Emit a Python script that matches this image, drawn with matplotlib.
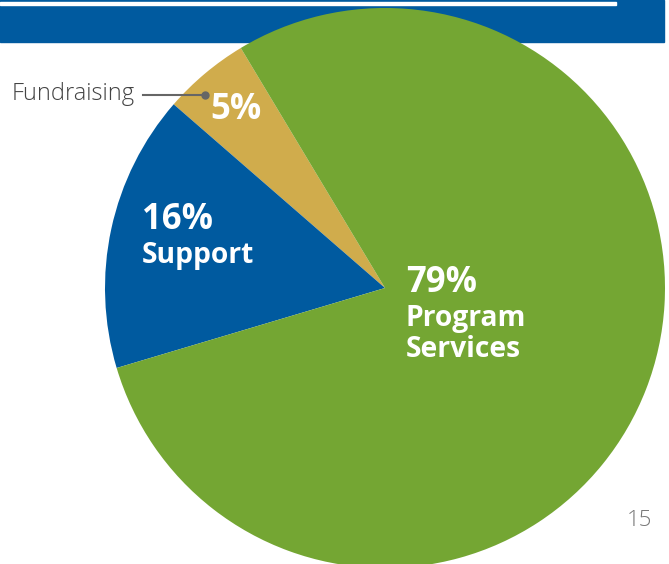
import matplotlib.pyplot as plt
from matplotlib.patches import Rectangle

labels = ["Fundraising", "Support", "Program\nServices"]
values = [5, 16, 79]
colors = ["#D0AC4C", "#005A9F", "#74A633"]

W, H = 669, 564
fig = plt.figure(figsize=(W / 100, H / 100), dpi=100)
ax = fig.add_axes([0, 0, 1, 1])

font = ["Open Sans", "DejaVu Sans"]

# header banner
ax.add_patch(Rectangle((0, H - 42), 664, 42, color="#005A9F", zorder=0))
ax.add_patch(Rectangle((0, H - 4.5), 616, 2.5, color="white", zorder=0.5))

cx, cy, r = 385, H - 288, 280
wedges, _ = ax.pie(values, colors=colors, startangle=121, counterclock=True,
                   center=(cx, cy), radius=r, frame=True,
                   wedgeprops=dict(linewidth=0))
for w in wedges:
    w.set_zorder(1)
ax.set_xlim(0, W)
ax.set_ylim(0, H)
ax.set_aspect("equal")
ax.axis("off")

pct = dict(color="white", fontsize=25, fontweight="bold", family=font,
           va="center", ha="left", zorder=3)
word = dict(color="white", fontsize=20.3, fontweight="bold", family=font,
            va="center", ha="left", zorder=3)

ax.text(210, H - 110, f"{values[0]}%", **pct)
ax.text(142, H - 220, f"{values[1]}%", **pct)
ax.text(142, H - 255, labels[1], **word)
ax.text(406, H - 283, f"{values[2]}%", **pct)
ax.text(406, H - 334, labels[2], linespacing=1.1, **word)

# Fundraising callout
ax.plot([143, 205], [H - 95, H - 95], color="#666666", lw=1.5, zorder=3)
ax.plot([205], [H - 95], "o", color="#666666", ms=5, zorder=3)
ax.text(12, H - 94, labels[0], color="#444444", fontsize=17, family=font,
        fontweight="light", va="center", ha="left", zorder=3)

# page number
ax.text(652, H - 520, "15", color="#777777", fontsize=16, family=font,
        fontweight="light", va="center", ha="right", zorder=3)

fig.savefig("out.png", dpi=100)
